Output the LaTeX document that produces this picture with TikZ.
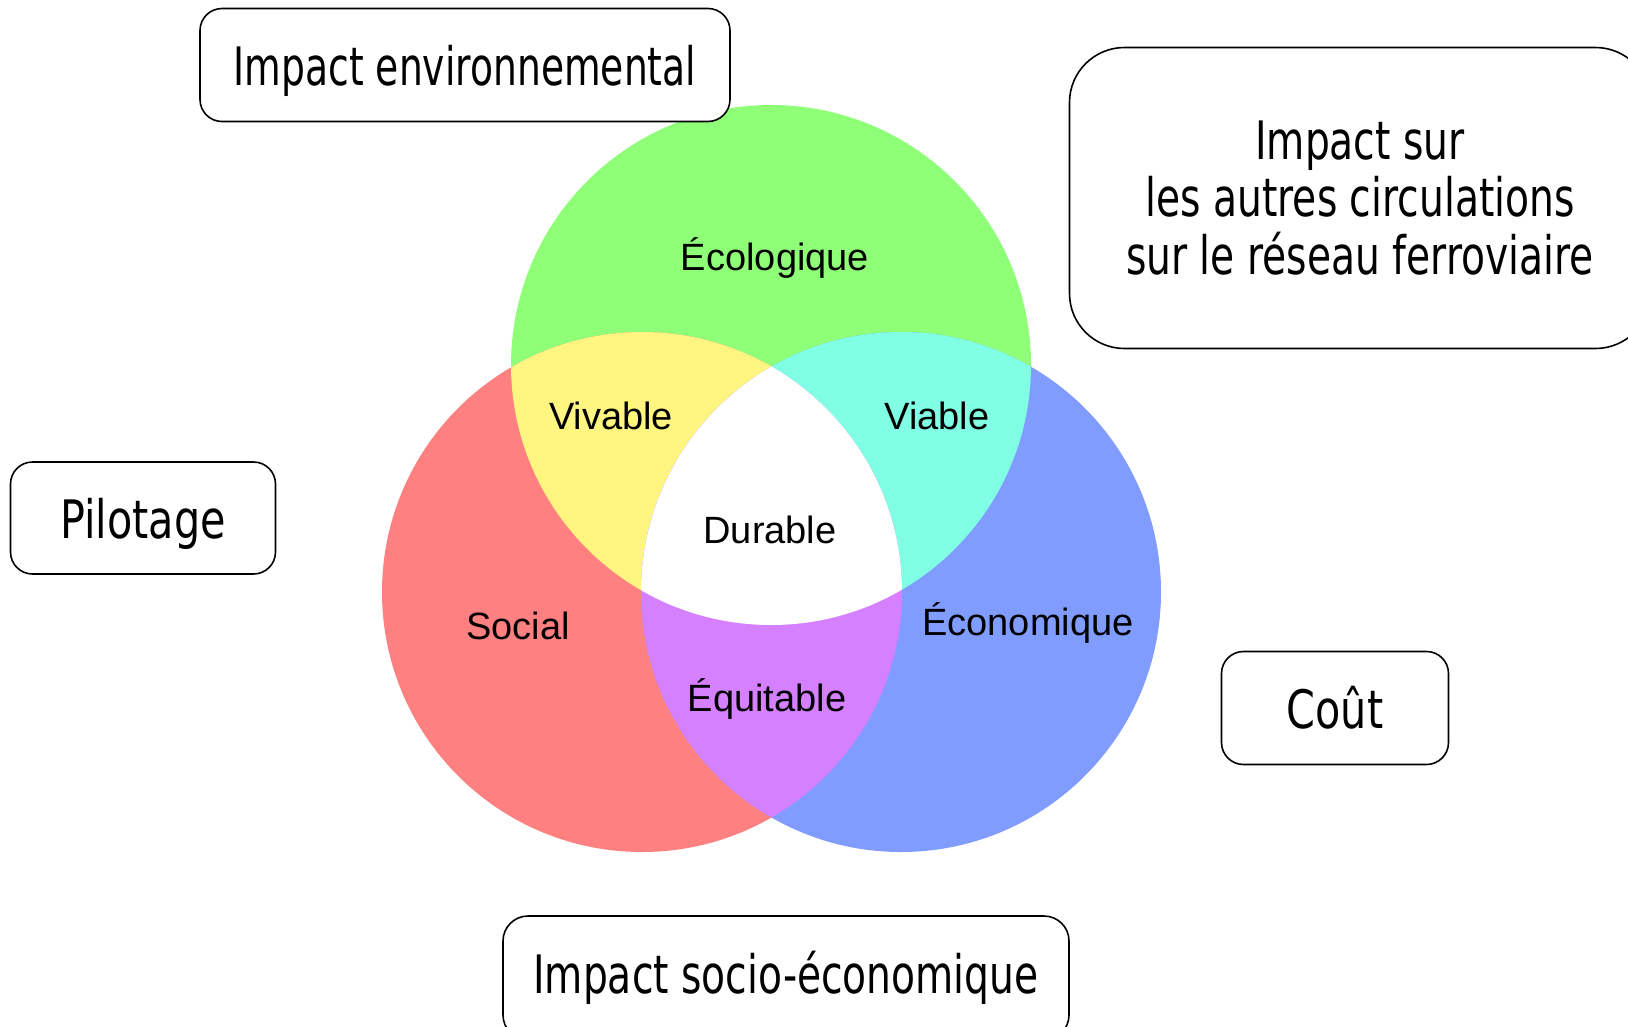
\documentclass[tikz,border=0pt]{standalone}
\usepackage{fontspec}
\setmainfont{Liberation Sans}
\newfontfamily\boxfont[FakeStretch=0.74]{DejaVu Sans}
\newfontfamily\boxfontwide[FakeStretch=0.78]{DejaVu Sans}
\newfontfamily\boxfontnarrow[FakeStretch=0.71]{DejaVu Sans}
\usepackage{tikz}

\definecolor{ecoGreen}{RGB}{143,255,120}
\definecolor{socRed}{RGB}{255,128,128}
\definecolor{econBlue}{RGB}{128,156,255}
\definecolor{vivYellow}{RGB}{255,245,128}
\definecolor{viaCyan}{RGB}{128,255,228}
\definecolor{equPurple}{RGB}{212,128,255}

\tikzset{
  boxnode/.style={draw, line width=1.6, rounded corners=22, fill=white, inner sep=0pt, align=center, font=\boxfont\fontsize{53}{57.6}\selectfont},
  vennlabel/.style={anchor=base, inner sep=0pt, font=\fontsize{38}{44}\selectfont}
}

\begin{document}
\begin{tikzpicture}[x=1pt,y=1pt,yscale=-1,xscale=1]
\useasboundingbox (0,0) rectangle (1628,1026);
\fill[white] (0,0) rectangle (1628,1026);

%Shape: Circles
\coordinate (eco) at (771,365);
\coordinate (soc) at (642,592);
\coordinate (econ) at (901,592);
\fill[ecoGreen] (eco) circle (260);
\fill[socRed] (soc) circle (260);
\fill[econBlue] (econ) circle (260);

%Shape: Overlaps
\begin{scope}
\clip (eco) circle (260);
\fill[vivYellow] (soc) circle (260);
\fill[viaCyan] (econ) circle (260);
\end{scope}
\begin{scope}
\clip (soc) circle (260);
\fill[equPurple] (econ) circle (260);
\end{scope}
\begin{scope}
\clip (eco) circle (260);
\clip (soc) circle (260);
\fill[white] (econ) circle (260);
\end{scope}

% Text Node
\node[vennlabel] (ecolo) at (775,270) {Écologique};
% Text Node
\node[vennlabel] (vivable) at (611,429) {Vivable};
% Text Node
\node[vennlabel] (viable) at (937,429) {Viable};
% Text Node
\node[vennlabel] (durable) at (770,543) {Durable};
% Text Node
\node[vennlabel] (social) at (518,639) {Social};
% Text Node
\node[vennlabel] (econo) at (1028,635) {Économique};
% Text Node
\node[vennlabel] (equi) at (767,711) {Équitable};

%Rounded Rect
\node[boxnode, text depth=0pt, font=\boxfontnarrow\fontsize{53}{57.6}\selectfont, minimum width=530, minimum height=113] (envir) at (465,65) {Impact environnemental};
%Rounded Rect
\node[boxnode, rounded corners=55, minimum width=581, minimum height=301] (reseau) at (1360,198) {Impact sur\\les autres circulations\\sur le réseau ferroviaire};
%Rounded Rect
\node[boxnode, text depth=0pt, font=\boxfontwide\fontsize{53}{57.6}\selectfont, minimum width=265, minimum height=112] (pilot) at (143,518) {Pilotage};
%Rounded Rect
\node[boxnode, font=\boxfontwide\fontsize{53}{57.6}\selectfont, minimum width=227, minimum height=113] (cout) at (1335,708) {Coût};
%Rounded Rect
\node[boxnode, rounded corners=25, minimum width=566, minimum height=124] (socioeco) at (786,978) {Impact socio-économique};

\end{tikzpicture}
\end{document}
